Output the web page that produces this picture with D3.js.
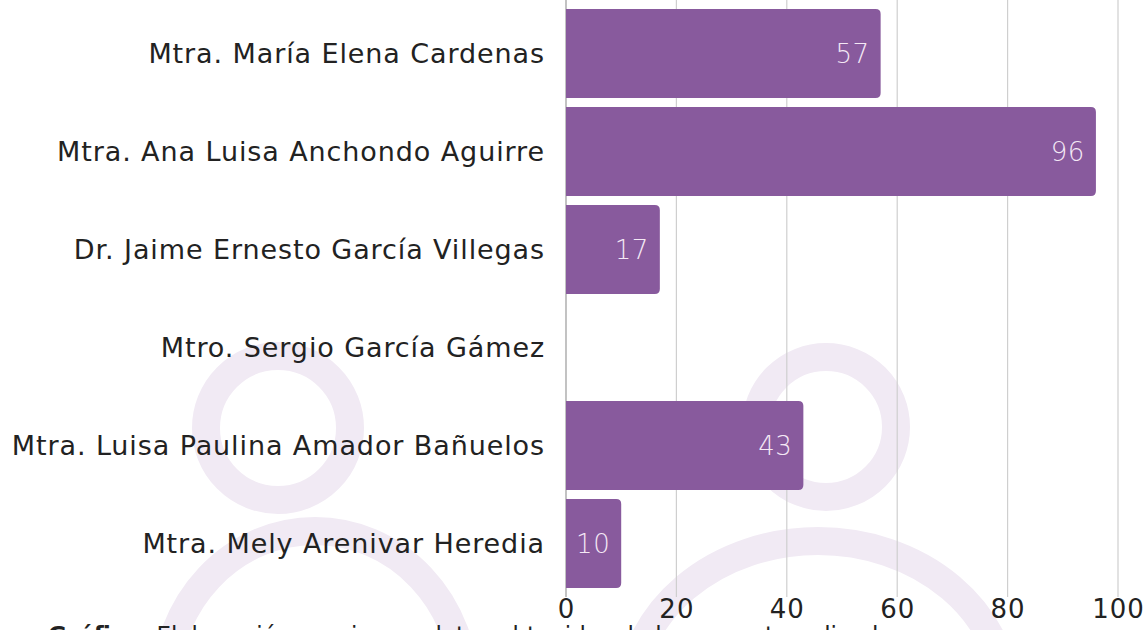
<!DOCTYPE html>
<html>
<head>
<meta charset="utf-8">
<script src="https://cdn.jsdelivr.net/npm/d3@7"></script>
<style>
  body { margin: 0; background: #fff; }
  svg { display: block; font-family: "DejaVu Sans", sans-serif; }
</style>
</head>
<body>
<svg id="chart" width="1148" height="630"></svg>
<script>
const names = [
  "Mtra. María Elena Cardenas",
  "Mtra. Ana Luisa Anchondo Aguirre",
  "Dr. Jaime Ernesto García Villegas",
  "Mtro. Sergio García Gámez",
  "Mtra. Luisa Paulina Amador Bañuelos",
  "Mtra. Mely Arenivar Heredia"
];
const values = [57, 96, 17, 0, 43, 10];
const tickValues = [0, 20, 40, 60, 80, 100];
const caption = "Gráfica: Elaboración propia con datos obtenidos de la encuesta aplicada";

const svg = d3.select("#chart");

// faint background figures (decoration)
const deco = svg.append("g").attr("fill", "none").attr("stroke", "#f1eaf4").attr("stroke-width", 28);
deco.append("circle").attr("cx", 278).attr("cy", 428).attr("r", 72);
deco.append("ellipse").attr("cx", 315).attr("cy", 690).attr("rx", 150).attr("ry", 159);
deco.append("circle").attr("cx", 826).attr("cy", 427).attr("r", 70);
deco.append("ellipse").attr("cx", 818).attr("cy", 700).attr("rx", 188).attr("ry", 159);

const x = d3.scaleLinear().domain([0, 100]).range([566, 1118]);
const y = d3.scaleBand().domain(names).range([4.5, 592.5]).paddingInner(0.09).paddingOuter(0.045);

// gridlines
svg.append("g").selectAll("line").data(tickValues).join("line")
  .attr("x1", d => x(d)).attr("x2", d => x(d))
  .attr("y1", 0).attr("y2", 597)
  .attr("stroke", d => d === 0 ? "#9a9a9a" : "#cfcfcf").attr("stroke-width", 1.2);

const barColor = "#885a9d";
const r = 5;
function barPath(v, name) {
  const x0 = x(0), x1 = x(v), y0 = y(name), h = y.bandwidth();
  const rr = Math.min(r, (x1 - x0) / 2);
  return `M${x0},${y0}H${x1 - rr}Q${x1},${y0} ${x1},${y0 + rr}V${y0 + h - rr}Q${x1},${y0 + h} ${x1 - rr},${y0 + h}H${x0}Z`;
}

const data = names.map((n, i) => ({ name: n, value: values[i] }));

svg.append("g").selectAll("path").data(data.filter(d => d.value > 0)).join("path")
  .attr("d", d => barPath(d.value, d.name))
  .attr("fill", barColor);

svg.append("g").selectAll("text").data(data.filter(d => d.value > 0)).join("text")
  .attr("x", d => x(d.value) - 11)
  .attr("y", d => y(d.name) + y.bandwidth() / 2)
  .attr("dy", "0.36em")
  .attr("text-anchor", "end")
  .attr("fill", "#f4e8f5")
  .attr("font-size", 26)
  .attr("font-weight", 200)
  .attr("letter-spacing", 0.5)
  .text(d => d.value);

// category labels
svg.append("g").selectAll("text").data(names).join("text")
  .attr("x", 545)
  .attr("y", d => y(d) + y.bandwidth() / 2)
  .attr("dy", "0.36em")
  .attr("text-anchor", "end")
  .attr("fill", "#222")
  .attr("font-size", 27)
  .attr("letter-spacing", 0.9)
  .text(d => d);

// x axis labels
const xAxis = svg.append("g").attr("transform", "translate(0,599)")
  .call(d3.axisBottom(x).tickValues(tickValues).tickSize(0).tickPadding(0));
xAxis.select(".domain").remove();
xAxis.selectAll("text").attr("font-size", 26).attr("fill", "#222")
  .attr("font-family", "DejaVu Sans, sans-serif").attr("letter-spacing", 1)
  .attr("dy", "0.72em");

// cut-off caption
const cap = svg.append("text").attr("x", 48).attr("y", 643).attr("font-size", 23).attr("fill", "#222");
cap.append("tspan").attr("font-weight", "bold").text(caption.split(" ")[0]);
cap.append("tspan").text(" " + caption.split(" ").slice(1).join(" "));
</script>
</body>
</html>
